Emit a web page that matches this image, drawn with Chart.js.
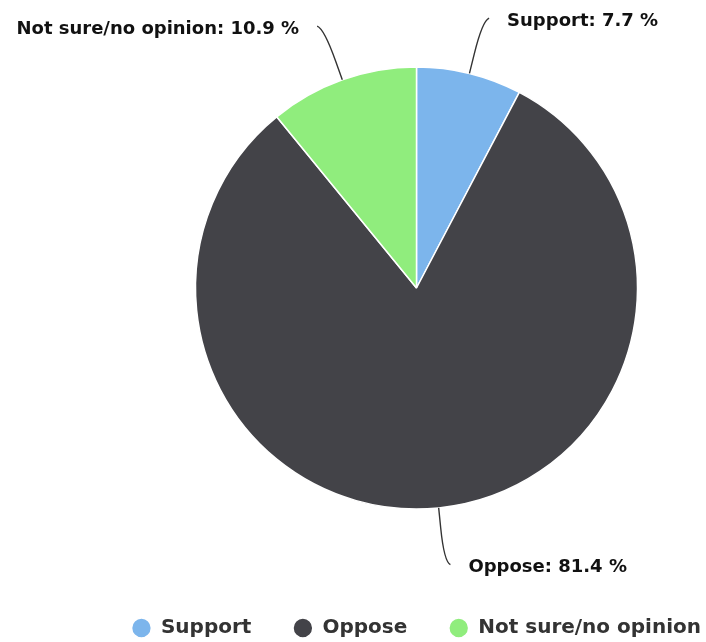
<!DOCTYPE html>
<html>
<head>
<meta charset="utf-8">
<script src="https://cdn.jsdelivr.net/npm/chart.js@4.4.1/dist/chart.umd.min.js"></script>
<style>
  html, body { margin: 0; padding: 0; background: #fff; overflow: hidden; width: 706px; height: 642px; }
  #wrap { width: 833px; height: 642px; }
</style>
</head>
<body>
<div id="wrap"><canvas id="myChart"></canvas></div>
<script>
var categories = ['Support', 'Oppose', 'Not sure/no opinion'];
var shares = [7.7, 81.4, 10.9];
var colors = ['#7cb5ec', '#434348', '#90ed7d'];

// pie labels with bent connector lines
var pieLabels = {
    id: 'pieLabels',
    afterDatasetsDraw: function(chart) {
        var ctx = chart.ctx;
        var arcs = chart.getDatasetMeta(0).data;
        var dist = 57;
        ctx.save();
        ctx.font = 'bold 18px "DejaVu Sans"';
        ctx.textBaseline = 'middle';
        arcs.forEach(function(arc, i) {
            var mid = (arc.startAngle + arc.endAngle) / 2;
            var r = arc.outerRadius;
            var cx = arc.x, cy = arc.y;
            var dx = Math.cos(mid), dy = Math.sin(mid);
            var right = dx >= 0;
            var sx = right ? 1 : -1;
            var e = { x: cx + r * dx, y: cy + r * dy };
            var m = { x: cx + (r + dist * 0.35) * dx, y: cy + (r + dist * 0.35) * dy };
            var q = { x: cx + (r + dist * 0.95) * dx, y: cy + (r + dist * 0.95) * dy };
            var a = { x: cx + (r + dist) * dx, y: cy + (r + dist) * dy };
            var t = { x: a.x + sx * 6, y: a.y };
            ctx.strokeStyle = '#333333';
            ctx.lineWidth = 1.4;
            ctx.beginPath();
            ctx.moveTo(e.x, e.y);
            ctx.lineTo(m.x, m.y);
            ctx.quadraticCurveTo(q.x, q.y, t.x, t.y);
            ctx.stroke();
            ctx.fillStyle = '#111111';
            ctx.textAlign = right ? 'left' : 'right';
            ctx.fillText(categories[i] + ': ' + shares[i] + ' %', a.x + sx * 24, a.y + 3);
        });
        ctx.restore();
    }
};

var ctx = document.getElementById('myChart').getContext('2d');
var chart = new Chart(ctx, {
    type: 'pie',
    data: {
        labels: categories,
        datasets: [{
            data: shares,
            backgroundColor: colors,
            borderColor: '#ffffff',
            borderWidth: 1.5,
            radius: 221
        }]
    },
    options: {
        responsive: true,
        maintainAspectRatio: false,
        animation: false,
        layout: {
            padding: { left: 0, right: 0, top: 0, bottom: -6 }
        },
        plugins: {
            tooltip: { enabled: false },
            legend: {
                position: 'bottom',
                labels: {
                    usePointStyle: true,
                    pointStyle: 'circle',
                    boxWidth: 19,
                    boxHeight: 14,
                    padding: 42,
                    color: '#333333',
                    font: { family: '"DejaVu Sans"', size: 20, weight: 'bold' }
                }
            }
        }
    },
    plugins: [pieLabels]
});
</script>
</body>
</html>
